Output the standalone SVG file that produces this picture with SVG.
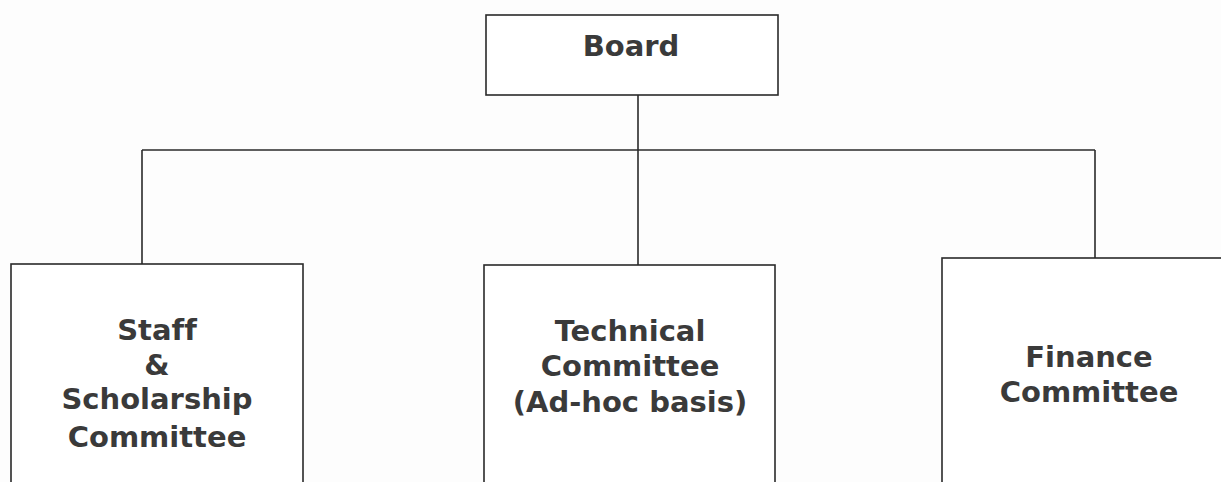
<svg xmlns="http://www.w3.org/2000/svg" width="1221" height="482" viewBox="0 0 1221 482">
  <style>
    .box { fill: #ffffff; stroke: #2a2a2a; stroke-width: 1.6; }
    .conn { fill: none; stroke: #2a2a2a; stroke-width: 1.6; }
    .lbl { font-family: "DejaVu Sans", Verdana, sans-serif; font-weight: bold; font-size: 29px; fill: #3a3a3a; text-anchor: middle; font-variant-ligatures: none; font-feature-settings: "liga" 0; }
  </style>
  <rect x="0" y="0" width="1221" height="482" fill="#fdfdfd"/>
  <g id="connectors">
    <line class="conn" x1="638" y1="95" x2="638" y2="265"/>
    <line class="conn" x1="142" y1="150" x2="1095" y2="150"/>
    <line class="conn" x1="142" y1="150" x2="142" y2="264"/>
    <line class="conn" x1="1095" y1="150" x2="1095" y2="258"/>
  </g>
  <g id="board">
    <rect class="box" x="486" y="15" width="292" height="80"/>
    <text class="lbl" x="631" y="56">Board</text>
  </g>
  <g id="staff-scholarship">
    <rect class="box" x="11" y="264" width="292" height="240"/>
    <text class="lbl" x="157" y="340">Staff</text>
    <text class="lbl" x="157" y="375">&amp;</text>
    <text class="lbl" x="157" y="409">Scholarship</text>
    <text class="lbl" x="157" y="447">Committee</text>
  </g>
  <g id="technical">
    <rect class="box" x="484" y="265" width="291" height="240"/>
    <text class="lbl" x="630" y="341">Technical</text>
    <text class="lbl" x="630" y="376">Committee</text>
    <text class="lbl" x="630" y="412">(Ad-hoc basis)</text>
  </g>
  <g id="finance">
    <rect class="box" x="942" y="258" width="294" height="250"/>
    <text class="lbl" x="1089" y="367">Finance</text>
    <text class="lbl" x="1089" y="402">Committee</text>
  </g>
</svg>
